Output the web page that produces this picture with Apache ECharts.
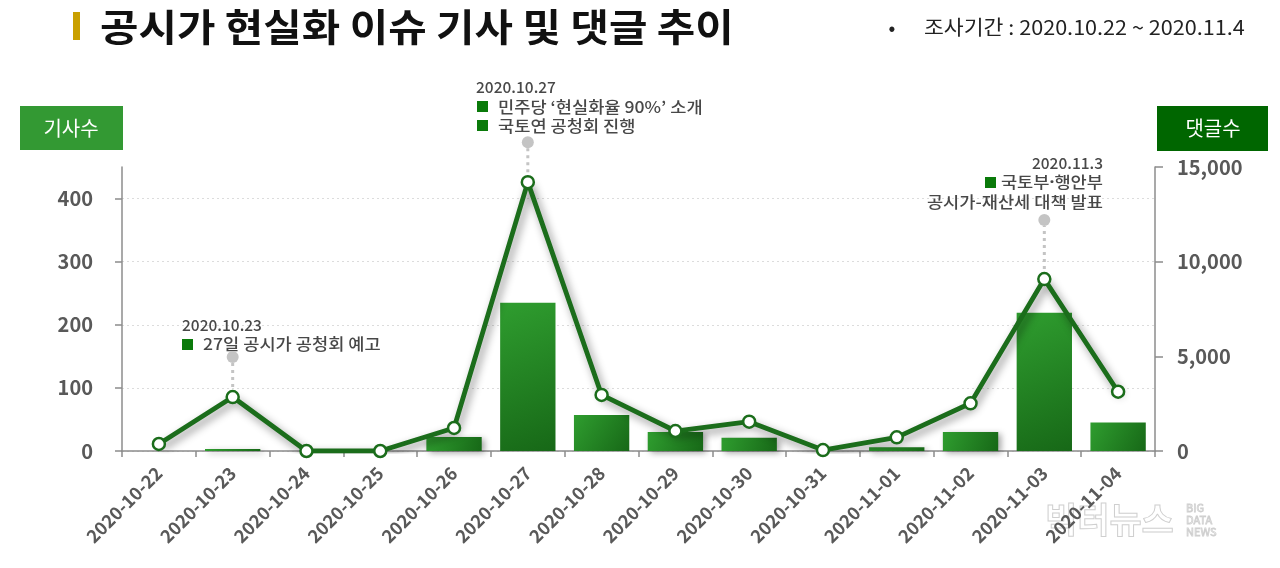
<!DOCTYPE html>
<html>
<head>
<meta charset="utf-8">
<script src="https://cdn.jsdelivr.net/npm/echarts@6/dist/echarts.min.js"></script>
<style>
html,body{margin:0;padding:0;background:#fff;}
#chart{width:1280px;height:568px;}
</style>
</head>
<body>
<div id="chart"></div>
<script>
const categories = ['2020-10-22','2020-10-23','2020-10-24','2020-10-25','2020-10-26','2020-10-27','2020-10-28','2020-10-29','2020-10-30','2020-10-31','2020-11-01','2020-11-02','2020-11-03','2020-11-04'];
const articles = [0, 3, 0, 0, 22, 235, 57, 30, 21, 0, 6, 30, 219, 45];
const comments = [370, 2850, 0, 0, 1215, 14200, 2960, 1056, 1550, 50, 720, 2520, 9080, 3130];
const leftTicks = [0, 100, 200, 300, 400];
const rightTicks = [0, 5000, 10000, 15000];
const annotations = [
  { date: '2020-10-23', title: '2020.10.23', lines: ['27일 공시가 공청회 예고'] },
  { date: '2020-10-27', title: '2020.10.27', lines: ['민주당 ‘현실화율 90%’ 소개', '국토연 공청회 진행'] },
  { date: '2020-11-03', title: '2020.11.3', lines: ['국토부', '행안부', '공시가-재산세 대책 발표'] }
];

const FONT = '"Noto Sans CJK KR", "Noto Sans", sans-serif';
const chart = echarts.init(document.getElementById('chart'));
const lineColor = '#1b6d1b';
const grey = '#595959';

const barShadow = { shadowColor: 'rgba(0,0,0,0.35)', shadowBlur: 6, shadowOffsetX: 3, shadowOffsetY: 2 };
const barData = articles.map(v => v === 0
  ? { value: v, itemStyle: { shadowBlur: 0, shadowOffsetX: 0, shadowOffsetY: 0, shadowColor: 'transparent' } }
  : v);

chart.setOption({
  animation: false,
  textStyle: { fontFamily: FONT },
  grid: { left: 122, right: 125, top: 167, bottom: 117 },
  xAxis: {
    type: 'category',
    data: categories,
    axisLine: { lineStyle: { color: '#8c8c8c', width: 1.5 } },
    axisTick: { show: true, length: 6, lineStyle: { color: '#8c8c8c', width: 1.5 } },
    axisLabel: { rotate: 45, interval: 0, fontSize: 18, fontWeight: 'bold', color: grey, margin: 19, fontFamily: FONT }
  },
  yAxis: [
    {
      type: 'value', min: 0, max: 450, interval: 100,
      axisLine: { show: true, lineStyle: { color: '#8c8c8c', width: 1.5 } },
      axisTick: { show: true, inside: false, length: 7, customValues: leftTicks, lineStyle: { color: '#8c8c8c', width: 1.5 } },
      axisLabel: { customValues: leftTicks, fontSize: 20, fontWeight: 'bold', color: grey, margin: 29, fontFamily: FONT },
      splitLine: { show: true, customValues: leftTicks, lineStyle: { color: '#dcdcdc', type: [2, 3], width: 1 } }
    },
    {
      type: 'value', min: 0, max: 15000, interval: 5000, position: 'right',
      axisLine: { show: true, lineStyle: { color: '#8c8c8c', width: 1.5 } },
      axisTick: { show: true, length: 8, lineStyle: { color: '#8c8c8c', width: 1.5 } },
      axisLabel: { fontSize: 20, fontWeight: 'bold', color: grey, margin: 22, fontFamily: FONT,
        formatter: v => v.toLocaleString('en-US') },
      splitLine: { show: false }
    }
  ],
  series: [
    {
      name: '기사수', type: 'bar', yAxisIndex: 0, data: barData, barWidth: '75%',
      itemStyle: Object.assign({
        color: new echarts.graphic.LinearGradient(0, 0, 1, 1, [
          { offset: 0, color: '#2f9d2f' },
          { offset: 1, color: '#176817' }
        ])
      }, barShadow),
      z: 2
    },
    {
      name: '댓글수', type: 'line', yAxisIndex: 1, data: comments,
      symbol: 'circle', symbolSize: 12,
      lineStyle: { color: lineColor, width: 4.8, shadowColor: 'rgba(0,0,0,0.45)', shadowBlur: 8, shadowOffsetX: 3, shadowOffsetY: 4 },
      itemStyle: { color: '#ffffff', borderColor: lineColor, borderWidth: 2.5 },
      z: 4
    }
  ]
});

const graphics = [];
// title
graphics.push({ type: 'rect', shape: { x: 73, y: 12, width: 7, height: 28 }, style: { fill: '#c9a000' } });
graphics.push({ type: 'text', x: 100, y: 27, scaleX: 1.1, style: { text: '공시가 현실화 이슈 기사 및 댓글 추이', font: 'bold 38px ' + FONT, fill: '#111', verticalAlign: 'middle' } });
graphics.push({ type: 'text', x: 892, y: 27, style: { text: '•', font: '20px ' + FONT, fill: '#222', align: 'center', verticalAlign: 'middle' } });
graphics.push({ type: 'text', x: 924, y: 27, scaleX: 1.08, style: { text: '조사기간 : 2020.10.22 ~ 2020.11.4', font: '20px ' + FONT, fill: '#222', verticalAlign: 'middle' } });
// axis name boxes
graphics.push({ type: 'rect', shape: { x: 20, y: 106, width: 103, height: 44 }, style: { fill: '#339933' } });
graphics.push({ type: 'text', x: 71, y: 128, style: { text: '기사수', font: '20px ' + FONT, fill: '#fff', align: 'center', verticalAlign: 'middle' } });
graphics.push({ type: 'rect', shape: { x: 1157, y: 106, width: 111, height: 45 }, style: { fill: '#006600' } });
graphics.push({ type: 'text', x: 1213, y: 128, style: { text: '댓글수', font: '20px ' + FONT, fill: '#fff', align: 'center', verticalAlign: 'middle' } });
// watermark
graphics.push({ type: 'text', x: 1045, y: 520, z: 0, style: { text: '빅터뉴스', font: 'bold 35px ' + FONT, fill: 'rgba(255,255,255,0)', stroke: '#cfcfcf', lineWidth: 1, verticalAlign: 'middle' } });
graphics.push({ type: 'text', x: 1186, y: 520, z: 0, style: { text: 'BIG\nDATA\nNEWS', font: '11px ' + FONT, lineHeight: 12, fill: 'rgba(255,255,255,0)', stroke: '#cfcfcf', lineWidth: 0.8, verticalAlign: 'middle' } });

// annotations: dotted leader lines anchored on data points
const leaderLen = { '2020-10-23': 40, '2020-10-27': 40, '2020-11-03': 59 };
annotations.forEach(a => {
  const idx = categories.indexOf(a.date);
  const p = chart.convertToPixel({ seriesIndex: 1 }, [idx, comments[idx]]);
  const L = leaderLen[a.date];
  graphics.push({ type: 'line', z: 5, shape: { x1: p[0], y1: p[1] - 10, x2: p[0], y2: p[1] - L + 6 }, style: { stroke: '#c4c4c4', lineWidth: 3, lineDash: [3, 4] } });
  graphics.push({ type: 'circle', z: 5, shape: { cx: p[0], cy: p[1] - L, r: 6 }, style: { fill: '#c4c4c4' } });
});

const dfont = '500 15.5px ' + FONT;
const tfont = '500 16px ' + FONT;
const tcol = '#484848';
const sq = '#0a7a0a';
const SX = 1.1;
// annotation 1
graphics.push({ type: 'text', x: 182, y: 325, style: { text: annotations[0].title, font: dfont, fill: tcol, verticalAlign: 'middle' } });
graphics.push({ type: 'rect', shape: { x: 182, y: 339, width: 11, height: 11 }, style: { fill: sq } });
graphics.push({ type: 'text', x: 203, y: 344, scaleX: SX, style: { text: annotations[0].lines[0], font: tfont, fill: tcol, verticalAlign: 'middle' } });
// annotation 2
graphics.push({ type: 'text', x: 476, y: 87, style: { text: annotations[1].title, font: dfont, fill: tcol, verticalAlign: 'middle' } });
graphics.push({ type: 'rect', shape: { x: 477, y: 101, width: 11, height: 11 }, style: { fill: sq } });
graphics.push({ type: 'text', x: 498, y: 107, scaleX: SX, style: { text: annotations[1].lines[0], font: tfont, fill: tcol, verticalAlign: 'middle' } });
graphics.push({ type: 'rect', shape: { x: 477, y: 120, width: 11, height: 11 }, style: { fill: sq } });
graphics.push({ type: 'text', x: 498, y: 126, scaleX: SX, style: { text: annotations[1].lines[1], font: tfont, fill: tcol, verticalAlign: 'middle' } });
// annotation 3 (right aligned)
graphics.push({ type: 'text', x: 1103, y: 163, style: { text: annotations[2].title, font: dfont, fill: tcol, align: 'right', verticalAlign: 'middle' } });
graphics.push({ type: 'rect', shape: { x: 985, y: 177, width: 11, height: 11 }, style: { fill: sq } });
graphics.push({ type: 'text', x: 1103, y: 182, scaleX: SX, style: {
  text: '{a|' + annotations[2].lines[0] + '}{d|·}{a|' + annotations[2].lines[1] + '}',
  align: 'right', verticalAlign: 'middle',
  rich: { a: { font: tfont, fill: tcol }, d: { font: 'bold 16px "Noto Sans", sans-serif', fill: tcol } }
} });
graphics.push({ type: 'text', x: 1103, y: 202, scaleX: SX, style: { text: annotations[2].lines[2], font: tfont, fill: tcol, align: 'right', verticalAlign: 'middle' } });

chart.setOption({ graphic: graphics });
</script>
</body>
</html>
